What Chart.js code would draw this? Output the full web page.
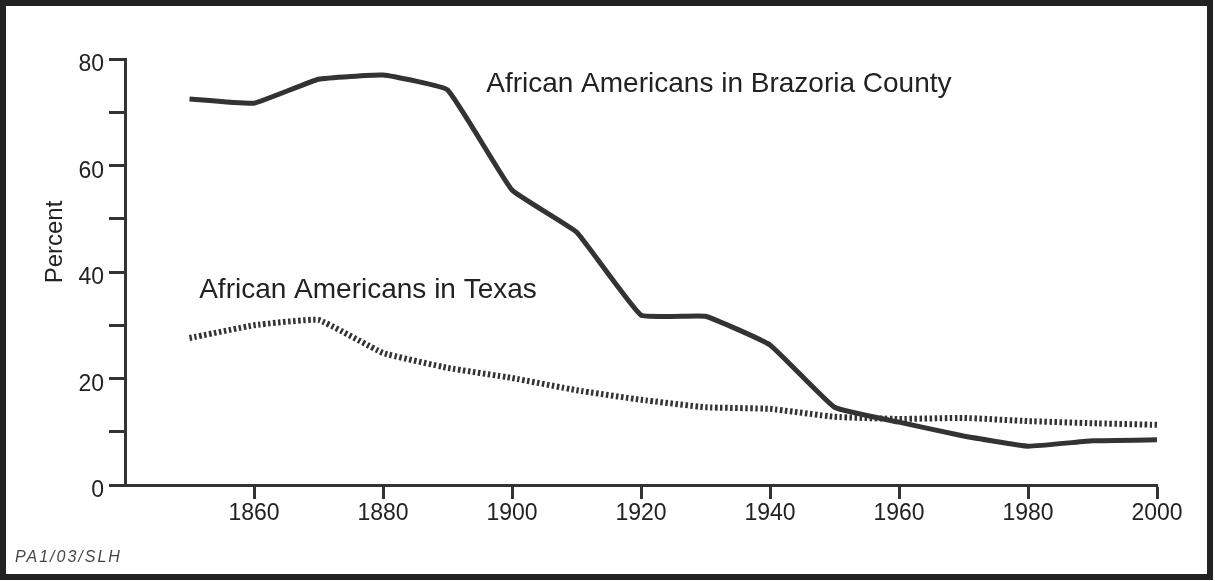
<!DOCTYPE html>
<html>
<head>
<meta charset="utf-8">
<script src="https://cdn.jsdelivr.net/npm/chart.js@4"></script>
<style>
  html, body { margin: 0; padding: 0; background: #fff; }
  #wrap { width: 1215px; height: 581px; position: relative; }
</style>
</head>
<body>
<div id="wrap"><canvas id="chart"></canvas></div>
<script>
const years = [1850, 1860, 1870, 1880, 1890, 1900, 1910, 1920, 1930, 1940, 1950, 1960, 1970, 1980, 1990, 2000];
const brazoria = [72.5, 71.7, 76.2, 77.0, 74.2, 55.4, 47.5, 31.9, 31.7, 26.3, 14.6, 11.8, 9.2, 7.3, 8.3, 8.5];
const texas = [27.6, 30.0, 31.0, 24.8, 22.0, 20.1, 17.8, 16.0, 14.6, 14.3, 12.8, 12.4, 12.6, 12.0, 11.6, 11.3];
const yearTicks = [1860, 1880, 1900, 1920, 1940, 1960, 1980, 2000];

const ink = '#333';
const font = "'Liberation Sans', Arial, sans-serif";

// frame + text labels on the chart
const decorations = {
  id: 'decorations',
  beforeDraw(chart) {
    const ctx = chart.ctx;
    ctx.save();
    ctx.fillStyle = '#fff';
    ctx.fillRect(0, 0, chart.width, chart.height);
    ctx.restore();
  },
  afterDraw(chart) {
    const ctx = chart.ctx;
    const x = chart.scales.x, y = chart.scales.y;
    ctx.save();
    ctx.strokeStyle = '#222';
    ctx.lineWidth = 6;
    ctx.strokeRect(3, 3, chart.width - 8, chart.height - 7);

    ctx.fillStyle = '#222';
    ctx.textBaseline = 'middle';
    ctx.font = '28px ' + font;
    ctx.fillText('African Americans in Brazoria County', x.getPixelForValue(1896), y.getPixelForValue(75.3));
    ctx.fillText('African Americans in Texas', x.getPixelForValue(1851.5), y.getPixelForValue(36.6));

    ctx.font = '24px ' + font;
    ctx.translate(55, 242);
    ctx.rotate(-Math.PI / 2);
    ctx.textAlign = 'center';
    ctx.fillText('Percent', 0, 0);
    ctx.restore();

    ctx.save();
    ctx.fillStyle = '#444';
    ctx.font = 'italic 16px ' + font;
    ctx.letterSpacing = '2px';
    ctx.textBaseline = 'middle';
    ctx.fillText('PA1/03/SLH', 15, 558);
    ctx.restore();
  }
};

new Chart(document.getElementById('chart'), {
  type: 'line',
  data: {
    datasets: [
      {
        label: 'African Americans in Brazoria County',
        data: years.map((yr, i) => ({ x: yr, y: brazoria[i] })),
        borderColor: ink,
        borderWidth: 5,
        pointRadius: 0,
        tension: 0.1
      },
      {
        label: 'African Americans in Texas',
        data: years.map((yr, i) => ({ x: yr, y: texas[i] })),
        borderColor: ink,
        borderWidth: 6,
        borderDash: [2.5, 2.5],
        pointRadius: 0,
        tension: 0.1
      }
    ]
  },
  options: {
    responsive: true,
    maintainAspectRatio: false,
    animation: false,
    layout: { padding: { left: 0, right: 58, top: 59, bottom: 0 } },
    plugins: {
      legend: { display: false },
      tooltip: { enabled: false }
    },
    scales: {
      x: {
        type: 'linear',
        min: 1840,
        max: 2000,
        afterBuildTicks: scale => {
          scale.ticks = yearTicks.map(v => ({ value: v }));
        },
        afterFit: scale => { scale.height = 96; },
        grid: { drawOnChartArea: false, tickLength: 14, tickWidth: 3, tickColor: ink },
        border: { display: true, width: 3, color: ink },
        ticks: { color: '#222', font: { family: font, size: 23 }, padding: 1, maxRotation: 0, callback: v => String(v) }
      },
      y: {
        min: 0,
        max: 80,
        afterFit: scale => { scale.width = 125; },
        grid: { drawOnChartArea: false, tickLength: 16, tickWidth: 3, tickColor: ink },
        border: { display: true, width: 3, color: ink },
        ticks: {
          stepSize: 10,
          color: '#222',
          font: { family: font, size: 23 },
          padding: 5,
          labelOffset: 6,
          callback: v => (v % 20 === 0 ? String(v) : '')
        }
      }
    }
  },
  plugins: [decorations]
});
</script>
</body>
</html>
